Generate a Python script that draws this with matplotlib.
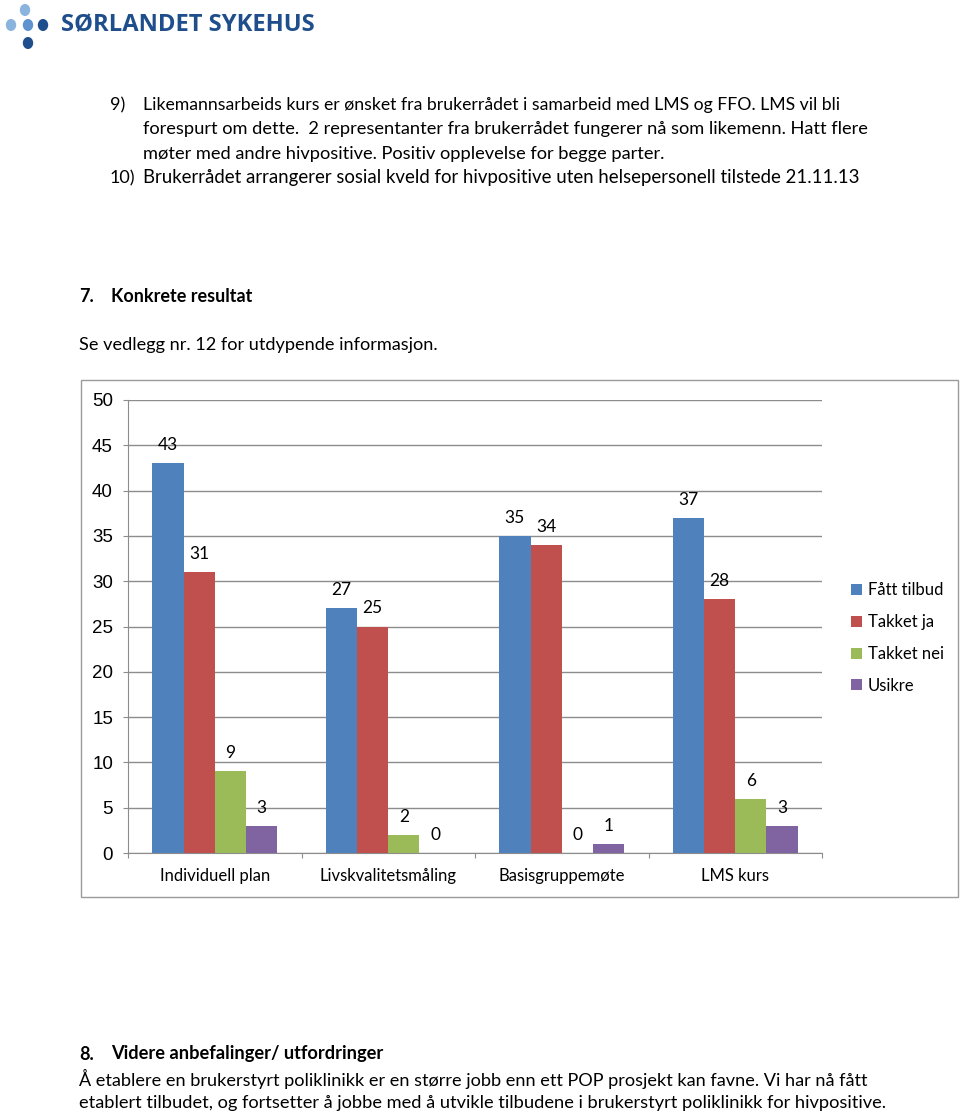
import matplotlib
matplotlib.use("Agg")
import matplotlib.pyplot as plt
from matplotlib.patches import Rectangle, Circle
import numpy as np

W, H = 960, 1114

categories = ["Individuell plan", "Livskvalitetsmåling", "Basisgruppemøte", "LMS kurs"]
series_names = ["Fått tilbud", "Takket ja", "Takket nei", "Usikre"]
faatt_tilbud = [43, 27, 35, 37]
takket_ja = [31, 25, 34, 28]
takket_nei = [9, 2, 0, 6]
usikre = [3, 0, 1, 3]
colors = ["#4F81BD", "#C0504D", "#9BBB59", "#8064A2"]
y_ticks = [0, 5, 10, 15, 20, 25, 30, 35, 40, 45, 50]

body_font = "Lato"
fig = plt.figure(figsize=(W / 100, H / 100), dpi=100)
renderer = fig.canvas.get_renderer()


def put(x, y, s, size=13.0, weight="normal", color="black", family=body_font, right=None):
    t = fig.text(x / W, 1 - y / H, s, fontsize=size, fontweight=weight, color=color,
                 ha="left", va="center", family=family)
    if right is not None:
        # nudge the font size so the line ends about where the original does
        w = t.get_window_extent(renderer).width
        new = size * (right - x) / w
        t.set_fontsize(min(max(new, size * 0.965), size * 1.035))
    return t


# logo
for (cx, cy, c) in [(25, 10, "#8ab4de"), (11, 25, "#8ab4de"), (28, 25, "#5f93cf"),
                    (43, 25, "#1f4e8c"), (28, 43, "#1f4e8c")]:
    fig.patches.append(Circle((cx / W, 1 - cy / H), 5.2 / W, transform=fig.transFigure,
                              facecolor=c, edgecolor="none"))
put(61, 25, "SØRLANDET SYKEHUS", size=17, weight="bold", color="#1f4e8c",
    family="Open Sans", right=315)

# text above
put(110, 105, "9)")
put(143, 105, "Likemannsarbeids kurs er ønsket fra brukerrådet i samarbeid med LMS og FFO. LMS vil bli", right=838)
put(143, 129, "forespurt om dette.  2 representanter fra brukerrådet fungerer nå som likemenn. Hatt flere", right=868)
put(143, 154, "møter med andre hivpositive. Positiv opplevelse for begge parter.", right=665)
put(110, 178, "10)")
put(143, 178, "Brukerrådet arrangerer sosial kveld for hivpositive uten helsepersonell tilstede 21.11.13", right=868)
put(79, 297, "7.", weight="bold")
put(111, 297, "Konkrete resultat", weight="bold", right=252)
put(79, 345, "Se vedlegg nr. 12 for utdypende informasjon.", right=437)

# chart frame
fig.patches.append(Rectangle((81 / W, 1 - 897 / H), (958 - 81) / W, (897 - 380) / H,
                             transform=fig.transFigure, facecolor="none",
                             edgecolor="#9a9a9a", linewidth=1))

ax = fig.add_axes([128 / W, 1 - 853 / H, (822 - 128) / W, (853 - 400) / H])
values = [faatt_tilbud, takket_ja, takket_nei, usikre]
x = np.arange(len(categories))
bw = 0.18
for i, (name, vals) in enumerate(zip(series_names, values)):
    pos = x - 0.5 + 0.14 + bw * (i + 0.5)
    bars = ax.bar(pos, vals, width=bw, color=colors[i], label=name, zorder=3)
    for b, v in zip(bars, vals):
        ax.annotate(str(v), (b.get_x() + b.get_width() / 2, v), xytext=(0, 13),
                    textcoords="offset points", ha="center", va="center",
                    fontsize=12.5, family=body_font)

ax.set_xlim(-0.5, len(categories) - 0.5)
ax.set_ylim(0, 50)
ax.set_yticks(y_ticks)
ax.set_yticklabels([str(t) for t in y_ticks], family="Liberation Sans", fontsize=13.5)
ax.yaxis.grid(True, color="#8c8c8c", linewidth=1, zorder=0)
ax.set_xticks(np.arange(-0.5, len(categories), 1.0))
ax.set_xticklabels([])
ax.set_xticks(x, minor=True)
ax.set_xticklabels(categories, minor=True, family=body_font, fontsize=12)
ax.tick_params(axis="x", which="minor", length=0, pad=11)
ax.tick_params(axis="x", which="major", length=3.6, color="#8c8c8c", direction="out")
ax.tick_params(axis="y", length=3.6, color="#8c8c8c", pad=7.2)
for s in ["top", "right"]:
    ax.spines[s].set_visible(False)
for s in ["left", "bottom"]:
    ax.spines[s].set_color("#8c8c8c")

leg = fig.legend(handles=ax.containers, labels=series_names, loc="center left",
                 bbox_to_anchor=(836 / W, 1 - 638 / H), frameon=False,
                 prop={"family": body_font, "size": 12}, handlelength=0.65,
                 handleheight=0.65, handletextpad=0.35, labelspacing=0.95)

# text below
put(79, 1054, "8.", weight="bold")
put(111, 1054, "Videre anbefalinger/ utfordringer", weight="bold", right=383)
put(79, 1079, "Å etablere en brukerstyrt poliklinikk er en større jobb enn ett POP prosjekt kan favne. Vi har nå fått", right=866)
put(79, 1103, "etablert tilbudet, og fortsetter å jobbe med å utvikle tilbudene i brukerstyrt poliklinikk for hivpositive.", right=884)

fig.savefig("out.png", dpi=100)
